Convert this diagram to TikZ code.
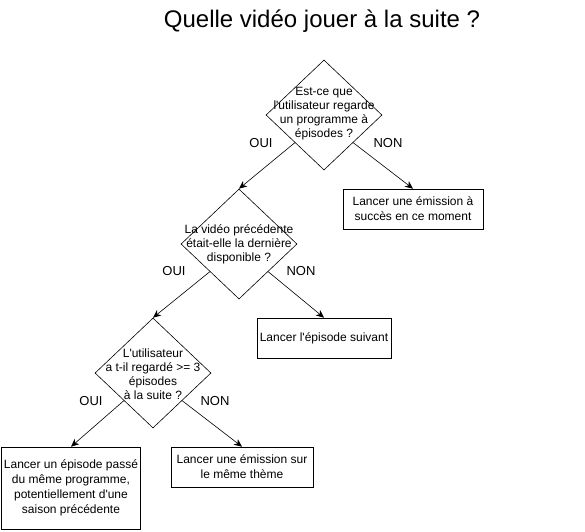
\documentclass[tikz,border=0pt]{standalone}
\usepackage{fontspec}
\newfontfamily\flowfont{Liberation Sans}
\usetikzlibrary{shapes.geometric,arrows.meta,positioning}

\tikzset{
    question/.style={draw, diamond, minimum width=116pt, minimum height=110pt, inner sep=0pt},
    qtext/.style={align=center, font=\flowfont\fontsize{12}{14}\selectfont},
    action/.style={draw, rectangle, align=center, minimum height=40pt, inner sep=2pt, font=\flowfont\fontsize{12}{15}\selectfont},
    answer/.style={font=\flowfont\fontsize{13}{15}\selectfont},
    flow/.style={-{Stealth[length=8pt,width=7pt,inset=2.5pt]}, line width=0.6pt}
}

\begin{document}
\begin{tikzpicture}[x=1pt, y=-1pt, line width=0.6pt]
    \useasboundingbox (0,0) rectangle (585,531);

    \node[font=\flowfont\fontsize{24}{28}\selectfont] (title) at (322,21) {Quelle vidéo jouer à la suite ?};

    % questions
    \node[question] (q1) at (324,115) {};
    \node[qtext] (q1txt) at (324,114) {Est-ce que\\l'utilisateur regarde\\un programme à\\épisodes ?};
    \node[question] (q2) at (239,244) {};
    \node[qtext] (q2txt) at (239,244) {La vidéo précédente\\était-elle la dernière\\disponible ?};
    \node[question] (q3) at (153,373) {};
    \node[qtext] (q3txt) at (153,374) {L'utilisateur\\a t-il regardé >= 3\\épisodes\\à la suite ?};

    % actions
    \node[action, minimum width=140pt] (hit) at (413,209) {Lancer une émission à\\succès en ce moment};
    \node[action, minimum width=134pt] (next) at (324,338) {Lancer l'épisode suivant};
    \node[action, minimum width=139pt, minimum height=82pt] (past) at (71,488) {Lancer un épisode passé\\du même programme,\\potentiellement d'une\\saison précédente};
    \node[action, minimum width=142pt] (theme) at (242,467) {Lancer une émission sur\\le même thème};

    \draw[flow] (q1.south west) -- (q2.north);
    \draw[flow] (q1.south east) -- (hit.north);
    \draw[flow] (q2.south west) -- (q3.north);
    \draw[flow] (q2.south east) -- (next.north);
    \draw[flow] (q3.south west) -- (past.north);
    \draw[flow] (q3.south east) -- (theme.north);

    % answers
    \node[answer] (yes1) at (261,143) {OUI};
    \node[answer] (no1) at (388,143) {NON};
    \node[answer] (yes2) at (174,271) {OUI};
    \node[answer] (no2) at (301,271) {NON};
    \node[answer] (yes3) at (91,401) {OUI};
    \node[answer] (no3) at (215,401) {NON};
\end{tikzpicture}
\end{document}
